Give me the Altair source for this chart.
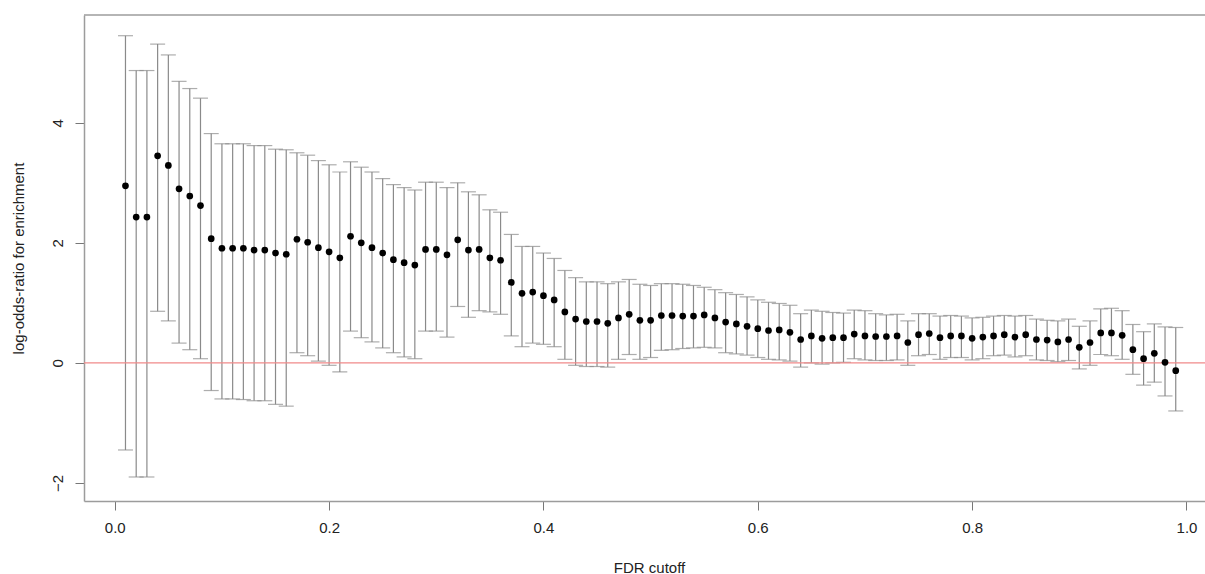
import altair as alt
import pandas as pd

# FDR cutoffs (x categories)
fdr = [0.01, 0.02, 0.03, 0.04, 0.05, 0.06, 0.07, 0.08, 0.09, 0.10,
       0.11, 0.12, 0.13, 0.14, 0.15, 0.16, 0.17, 0.18, 0.19, 0.20,
       0.21, 0.22, 0.23, 0.24, 0.25, 0.26, 0.27, 0.28, 0.29, 0.30,
       0.31, 0.32, 0.33, 0.34, 0.35, 0.36, 0.37, 0.38, 0.39, 0.40,
       0.41, 0.42, 0.43, 0.44, 0.45, 0.46, 0.47, 0.48, 0.49, 0.50,
       0.51, 0.52, 0.53, 0.54, 0.55, 0.56, 0.57, 0.58, 0.59, 0.60,
       0.61, 0.62, 0.63, 0.64, 0.65, 0.66, 0.67, 0.68, 0.69, 0.70,
       0.71, 0.72, 0.73, 0.74, 0.75, 0.76, 0.77, 0.78, 0.79, 0.80,
       0.81, 0.82, 0.83, 0.84, 0.85, 0.86, 0.87, 0.88, 0.89, 0.90,
       0.91, 0.92, 0.93, 0.94, 0.95, 0.96, 0.97, 0.98, 0.99]

# point estimates (log-odds-ratio)
log_odds = [2.95, 2.43, 2.43, 3.45, 3.29, 2.90, 2.78, 2.62, 2.07, 1.91,
            1.91, 1.91, 1.88, 1.88, 1.83, 1.81, 2.06, 2.01, 1.92, 1.85,
            1.75, 2.11, 2.00, 1.92, 1.83, 1.72, 1.67, 1.63, 1.89, 1.89,
            1.80, 2.05, 1.88, 1.89, 1.75, 1.71, 1.34, 1.16, 1.18, 1.12,
            1.05, 0.85, 0.73, 0.69, 0.69, 0.66, 0.75, 0.81, 0.71, 0.71,
            0.79, 0.79, 0.78, 0.78, 0.80, 0.75, 0.68, 0.65, 0.61, 0.57,
            0.54, 0.55, 0.51, 0.39, 0.45, 0.41, 0.42, 0.42, 0.48, 0.45,
            0.44, 0.44, 0.45, 0.34, 0.47, 0.49, 0.42, 0.45, 0.45, 0.41,
            0.43, 0.45, 0.47, 0.43, 0.47, 0.39, 0.38, 0.35, 0.39, 0.26,
            0.34, 0.50, 0.50, 0.46, 0.22, 0.07, 0.16, 0.01, -0.13]

# upper interval bound
upper = [5.45, 4.87, 4.87, 5.31, 5.13, 4.69, 4.57, 4.41, 3.82, 3.65,
         3.65, 3.65, 3.62, 3.62, 3.56, 3.55, 3.50, 3.46, 3.37, 3.30,
         3.18, 3.35, 3.26, 3.18, 3.07, 2.97, 2.92, 2.88, 3.01, 3.01,
         2.92, 3.00, 2.85, 2.80, 2.55, 2.51, 2.14, 1.94, 1.94, 1.83,
         1.74, 1.54, 1.42, 1.35, 1.35, 1.32, 1.35, 1.39, 1.31, 1.29,
         1.32, 1.32, 1.31, 1.29, 1.26, 1.22, 1.17, 1.14, 1.10, 1.05,
         1.01, 0.99, 0.96, 0.82, 0.88, 0.86, 0.84, 0.83, 0.88, 0.87,
         0.82, 0.80, 0.81, 0.70, 0.82, 0.82, 0.78, 0.79, 0.78, 0.75,
         0.76, 0.78, 0.79, 0.78, 0.79, 0.73, 0.71, 0.70, 0.73, 0.61,
         0.70, 0.90, 0.91, 0.87, 0.64, 0.52, 0.65, 0.60, 0.59]

# lower interval bound
lower = [-1.45, -1.90, -1.90, 0.86, 0.70, 0.33, 0.22, 0.07, -0.46, -0.60,
         -0.60, -0.61, -0.63, -0.63, -0.69, -0.72, 0.17, 0.12, 0.03, -0.04,
         -0.15, 0.53, 0.42, 0.35, 0.25, 0.17, 0.10, 0.07, 0.53, 0.53,
         0.43, 0.94, 0.76, 0.87, 0.85, 0.81, 0.45, 0.27, 0.33, 0.31,
         0.27, 0.06, -0.04, -0.06, -0.06, -0.07, 0.06, 0.14, 0.06, 0.09,
         0.21, 0.22, 0.24, 0.25, 0.26, 0.25, 0.17, 0.15, 0.13, 0.09,
         0.06, 0.05, 0.03, -0.07, 0.00, -0.02, 0.00, 0.01, 0.07, 0.05,
         0.04, 0.04, 0.05, -0.04, 0.12, 0.14, 0.06, 0.09, 0.09, 0.05,
         0.07, 0.12, 0.13, 0.10, 0.12, 0.05, 0.04, 0.02, 0.04, -0.10,
         -0.04, 0.14, 0.12, 0.06, -0.19, -0.37, -0.32, -0.55, -0.80]

ref_line = [0]

x_ticks = [0.0, 0.2, 0.4, 0.6, 0.8, 1.0]
y_ticks = [-2, 0, 2, 4]

df = pd.DataFrame({"fdr": fdr, "lor": log_odds, "upper": upper, "lower": lower})
ref_df = pd.DataFrame({"ref": ref_line})

FONT = "Liberation Sans"
TXT = "#222222"
GREY = "#8a8a8a"
FRAME = "#9c9c9c"

x_title = "FDR cutoff"
y_title = "log-odds-ratio for enrichment"

xscale = alt.Scale(domain=[-0.0287, 1.0173], nice=False, zero=False)
yscale = alt.Scale(domain=[-2.3, 5.795], nice=False, zero=False)

xaxis = alt.Axis(values=x_ticks, format=".1f", grid=False,
                 domain=True, domainColor=FRAME, domainWidth=1.5,
                 ticks=True, tickSize=9, tickColor="#777777", tickWidth=1,
                 labelFont=FONT, labelFontSize=15, labelColor=TXT,
                 labelPadding=10, labelFlush=False,
                 titleFont=FONT, titleFontSize=15, titleFontWeight="normal",
                 titleColor=TXT, titleX=565, titleY=66,
                 titleAlign="center", titleBaseline="middle")

yaxis = alt.Axis(values=y_ticks, format="d", grid=False,
                 domain=True, domainColor=FRAME, domainWidth=1.5,
                 ticks=True, tickSize=9, tickColor="#777777", tickWidth=1,
                 labelFont=FONT, labelFontSize=15, labelColor=TXT,
                 labelAngle=270, labelAlign="center", labelBaseline="middle",
                 labelPadding=18, labelFlush=False,
                 titleFont=FONT, titleFontSize=15, titleFontWeight="normal",
                 titleColor=TXT, titleAngle=270, titleX=-66, titleY=243,
                 titleAlign="center", titleBaseline="middle")


def X():
    return alt.X("fdr:Q", scale=xscale, axis=xaxis, title=x_title)


def Y(field):
    return alt.Y(field, type="quantitative", scale=yscale, axis=yaxis, title=y_title)


base = alt.Chart(df)

top_frame = alt.Chart(ref_df).mark_rule(color=FRAME, strokeWidth=1.5).encode(
    y=alt.value(0)
)
bars = base.mark_rule(color=GREY, strokeWidth=1.2).encode(
    x=X(), y=Y("lower"), y2="upper"
)
caps_hi = base.mark_tick(color=GREY, orient="horizontal", size=15, thickness=1.2).encode(
    x=X(), y=Y("upper")
)
caps_lo = base.mark_tick(color=GREY, orient="horizontal", size=15, thickness=1.2).encode(
    x=X(), y=Y("lower")
)
zero_line = alt.Chart(ref_df).mark_rule(color="#f08a8a", strokeWidth=1.3).encode(
    y=Y("ref")
)
points = base.mark_circle(color="black", opacity=1, size=45).encode(
    x=X(), y=Y("lor")
)

chart = alt.layer(top_frame, bars, caps_hi, caps_lo, zero_line, points).properties(
    width=1121, height=486,
    autosize=alt.AutoSizeParams(type="none"),
    padding={"left": 84, "top": 15, "right": 0, "bottom": 73},
    background="white",
).configure_view(strokeWidth=0)

chart.save("out.html", embed_options={"renderer": "svg", "actions": False})
